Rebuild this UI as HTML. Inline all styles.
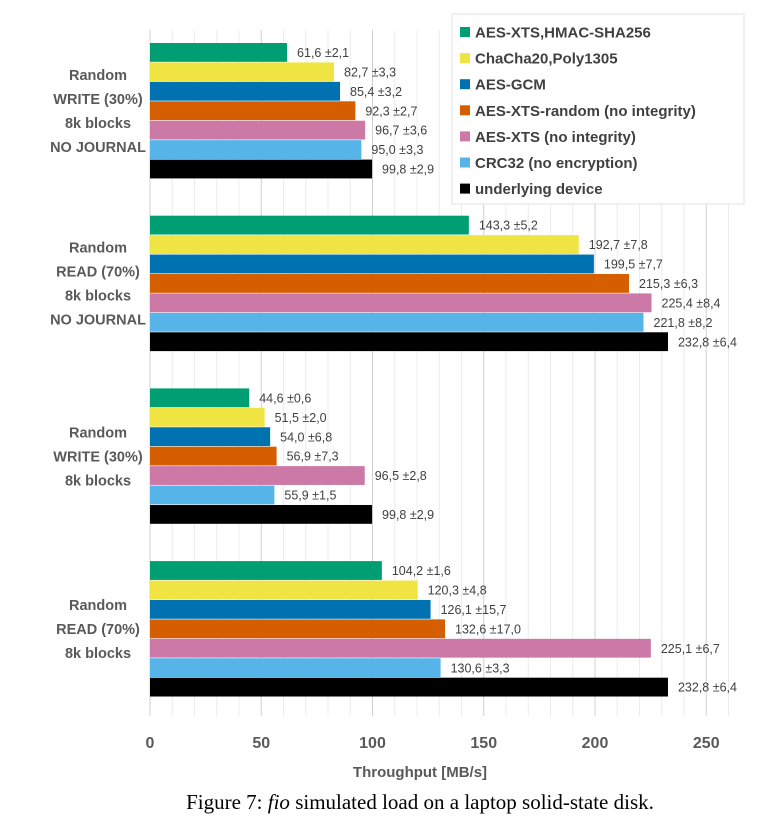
<!DOCTYPE html>
<html><head><meta charset="utf-8"><style>
body{margin:0;background:#fff;}
svg{display:block;font-family:"Liberation Sans",sans-serif;}
</style></head><body>
<svg id="c" width="769" height="829"></svg>
<script>
const groups=[["Random","WRITE (30%)","8k blocks","NO JOURNAL"],["Random","READ (70%)","8k blocks","NO JOURNAL"],["Random","WRITE (30%)","8k blocks"],["Random","READ (70%)","8k blocks"]];
const series=["AES-XTS,HMAC-SHA256","ChaCha20,Poly1305","AES-GCM","AES-XTS-random (no integrity)","AES-XTS (no integrity)","CRC32 (no encryption)","underlying device"];
const colors=["#009e73","#f0e442","#0072b2","#d55e00","#cc79a7","#56b4e9","#000000"];
const values=[[61.6,82.7,85.4,92.3,96.7,95.0,99.8],[143.3,192.7,199.5,215.3,225.4,221.8,232.8],[44.6,51.5,54.0,56.9,96.5,55.9,99.8],[104.2,120.3,126.1,132.6,225.1,130.6,232.8]];
const errors=[["2,1","3,3","3,2","2,7","3,6","3,3","2,9"],["5,2","7,8","7,7","6,3","8,4","8,2","6,4"],["0,6","2,0","6,8","7,3","2,8","1,5","2,9"],["1,6","4,8","15,7","17,0","6,7","3,3","6,4"]];
const ticks=[0,50,100,150,200,250];
const svg=document.getElementById('c');const NS='http://www.w3.org/2000/svg';
function mk(t,a,p){const e=document.createElementNS(NS,t);for(const k in a)e.setAttribute(k,a[k]);(p||svg).appendChild(e);return e;}
const x=v=>150+v*2.225;
const gTop=i=>43+i*172.7;const bh=19.43;
for(let v=10;v<=260;v+=10){const l=mk('line',{x1:x(v),x2:x(v),y1:30,y2:716,stroke:v%50==0?'#d0d0d0':'#ececec','stroke-width':1});

}
const ax=mk('line',{x1:150,x2:150,y1:30,y2:716,stroke:'#d0d0d0'});


ticks.forEach(t=>{const e=mk('text',{x:x(t),y:748,'text-anchor':'middle','font-size':16,'font-weight':'bold',fill:'#595959'});e.textContent=t;

});
values.forEach((vs,g)=>{
 const lines=groups[g];const cy=gTop(g)+bh*3.5;
 lines.forEach((s,k)=>{const e=mk('text',{x:98,y:cy+(k-(lines.length-1)/2)*24+5,'text-anchor':'middle','font-size':14.5,'font-weight':'bold',fill:'#595959'});e.textContent=s;
 
 });
 vs.forEach((v,i)=>{const y=gTop(g)+i*bh;
  const r=mk('rect',{x:150,y:y,width:x(v)-150,height:bh-0.6,fill:colors[i]});
  
  
  const t=mk('text',{x:x(v)+10,y:y+14,'font-size':12.5,fill:'#404040'});t.textContent=String(v.toFixed(1)).replace('.',',')+' ±'+errors[g][i];
  
  });
});
const lg=mk('g',{});


mk('rect',{x:452,y:14,width:292,height:190,fill:'#fff',stroke:'#e0e0e0'},lg);
series.forEach((s,i)=>{const y=32+i*26.1;
 const r=mk('rect',{x:460,y:y-5,width:10,height:10,fill:colors[i]},lg);
 
 
 const t=mk('text',{x:475,y:y+5.5,'font-size':15,'font-weight':'bold',fill:'#404040'},lg);t.textContent=s;
 
 });
const at=mk('text',{x:420,y:777,'text-anchor':'middle','font-size':15,'font-weight':'bold',fill:'#595959'});at.textContent='Throughput [MB/s]';


const cap=mk('text',{x:420,y:809,'text-anchor':'middle','font-size':21,fill:'#000','font-family':'"Liberation Serif",serif'});
cap.innerHTML='Figure 7: <tspan font-style="italic">fio</tspan> simulated load on a laptop solid-state disk.';


</script>
</body></html>
